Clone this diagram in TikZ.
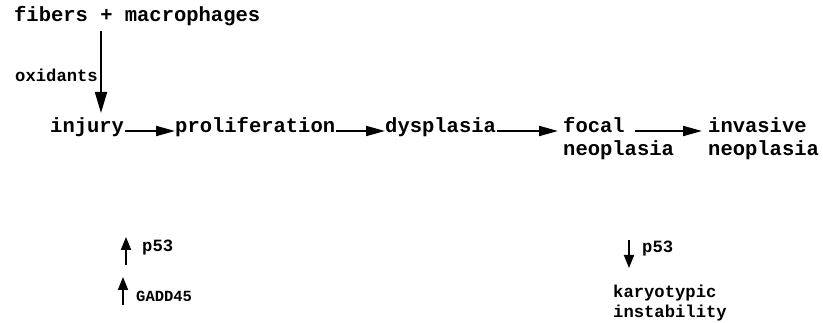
\documentclass[tikz,border=0pt]{standalone}
\usepackage{fontspec}
\setmonofont{Liberation Mono}
\usetikzlibrary{arrows.meta}
\begin{document}
\begin{tikzpicture}[x=1pt,y=-1pt,
  big/.style={inner sep=0pt,font=\ttfamily\bfseries\fontsize{20.5}{23}\selectfont,anchor=base west},
  small/.style={inner sep=0pt,font=\ttfamily\bfseries\fontsize{17.2}{20}\selectfont,anchor=base west},
  harr/.style={line width=2pt,-{Triangle[length=19pt,width=10pt]}},
  varr/.style={line width=2pt,-{Triangle[length=21pt,width=12pt]}},
  sarr/.style={line width=1.8pt,-{Triangle[length=13pt,width=10pt]}}]
\useasboundingbox (0,0) rectangle (823,323);
\node[big] (fibers) at (14,22) {fibers + macrophages};
\node[small,anchor=base east] (oxid) at (98,82) {oxidants};
\node[big] (injury) at (50,133) {injury};
\node[big] (prolif) at (175,133) {proliferation};
\node[big] (dysp) at (385,133) {dysplasia};
\node[big,align=left] (focal) at (563,156) {focal\\neoplasia};
\node[big,align=left] (invas) at (708,156) {invasive\\neoplasia};
\coordinate (tip) at (101,113);
\draw[varr] (fibers.south -| tip) ++(0,4) -- (tip);
\draw[harr] ([xshift=1pt,yshift=2pt]injury.base east) -- ([yshift=2pt]prolif.base west);
\draw[harr] ([xshift=1pt,yshift=2pt]prolif.base east) -- ([yshift=2pt]dysp.base west);
\coordinate (fw) at (558,131);
\draw[harr] ([xshift=1pt,yshift=2pt]dysp.base east) -- (fw);
\coordinate (fa) at (635,131);
\coordinate (fb) at (702,131);
\draw[harr] (fa) -- (fb);
% bottom
\node[small] (p53a) at (142,252) {p53};
\node[small,font=\ttfamily\bfseries\fontsize{15.5}{18}\selectfont] (gadd) at (136,302) {GADD45};
\coordinate (u1a) at (126,265); \coordinate (u1b) at (126,237);
\draw[sarr] (u1a) -- (u1b);
\coordinate (u2a) at (123,305); \coordinate (u2b) at (123,277);
\draw[sarr] (u2a) -- (u2b);
\node[small] (p53b) at (642,253) {p53};
\coordinate (d1a) at (629,240); \coordinate (d1b) at (629,268);
\draw[sarr] (d1a) -- (d1b);
\node[small,align=left] (karyo) at (613,318) {karyotypic\\instability};
\end{tikzpicture}
\end{document}
